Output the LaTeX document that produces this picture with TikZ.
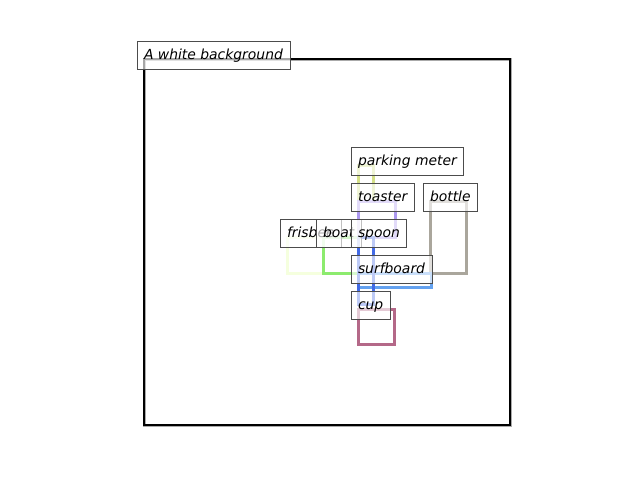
\documentclass[tikz,border=0pt]{standalone}
\usepackage{fontspec}
\setmainfont{DejaVu Sans}
\definecolor{cbg}{RGB}{170,170,170}
\definecolor{cpm}{RGB}{212,224,135}
\definecolor{ctoa}{RGB}{172,152,240}
\definecolor{cbot}{RGB}{170,166,156}
\definecolor{cspo}{RGB}{66,106,230}
\definecolor{cfri}{RGB}{245,255,222}
\definecolor{cboa}{RGB}{140,235,110}
\definecolor{csur}{RGB}{100,162,240}
\definecolor{ccup}{RGB}{180,104,136}
\tikzset{
  bbox/.style={line width=3pt},
  lbl/.style={anchor=base west, draw=black!70, fill=white, fill opacity=0.65, text opacity=1, draw opacity=1,
    inner xsep=7pt, inner ysep=7pt, outer sep=0pt, text height=11pt, text depth=3pt,
    line width=0.8pt, font=\fontsize{13.9}{16}\selectfont\itshape}
}
\begin{document}
\begin{tikzpicture}[x=1pt,y=-1pt]
\useasboundingbox (0,0) rectangle (640,480);
% boxes
\draw[bbox,cbg] (144,59) rectangle (510,425);
\draw[bbox,cpm] (358,165) rectangle (373,201);
\draw[bbox,ctoa] (358,201) rectangle (395,237);
\draw[bbox,cbot] (430,201) rectangle (466,273);
\draw[bbox,cfri] (287,237) rectangle (323,273);
\draw[bbox,cboa] (323,237) rectangle (358,273);
\draw[bbox,csur] (358,273) rectangle (431,287);
\draw[bbox,cspo] (358,237) rectangle (373,304);
\draw[bbox,ccup] (358,309) rectangle (394,344);
% axes frame
\draw[line width=2.2pt,black] (144,59) rectangle (510,425);
% labels
\node[lbl] (lbg) at (137,59) {A white background};
\node[lbl] (lpm) at (351,165) {parking meter};
\node[lbl] (ltoa) at (351,201) {toaster};
\node[lbl] (lbot) at (423,201) {bottle};
\node[lbl] (lfri) at (280,237) {frisbee};
\node[lbl] (lboa) at (316,237) {boat};
\node[lbl] (lspo) at (351,237) {spoon};
\node[lbl] (lsur) at (351,273) {surfboard};
\node[lbl] (lcup) at (351,309) {cup};
\end{tikzpicture}
\end{document}
